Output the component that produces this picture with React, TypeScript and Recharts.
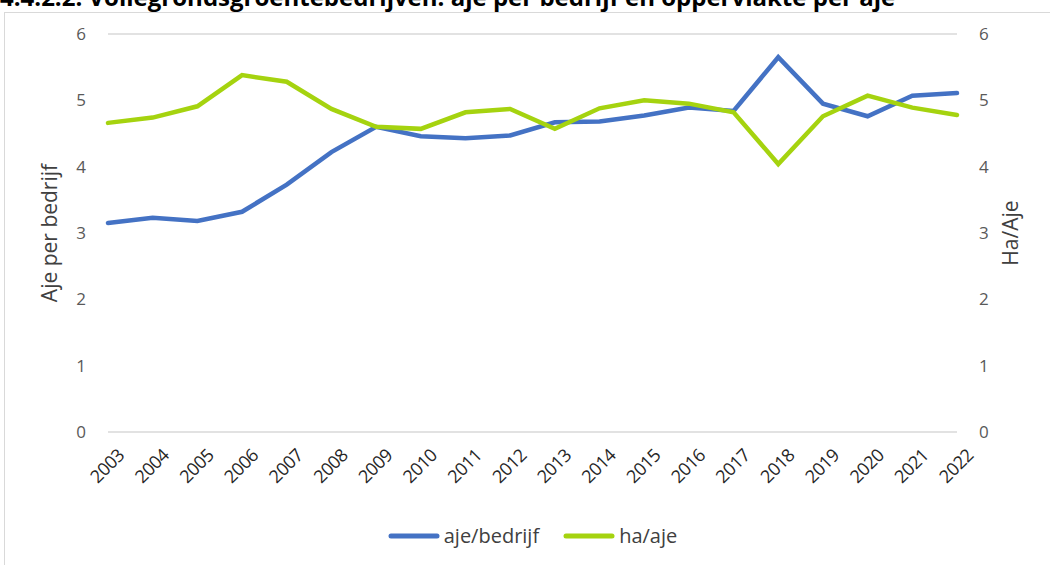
import React from 'react';
import { LineChart, Line, XAxis, YAxis, CartesianGrid, Legend } from 'recharts';

const years = ['2003', '2004', '2005', '2006', '2007', '2008', '2009', '2010', '2011', '2012', '2013', '2014', '2015', '2016', '2017', '2018', '2019', '2020', '2021', '2022'];
const ajePerBedrijf = [3.15, 3.23, 3.18, 3.32, 3.73, 4.22, 4.6, 4.46, 4.43, 4.47, 4.67, 4.68, 4.77, 4.89, 4.84, 5.65, 4.95, 4.76, 5.07, 5.11];
const haPerAje = [4.66, 4.74, 4.91, 5.38, 5.28, 4.87, 4.6, 4.57, 4.82, 4.87, 4.57, 4.88, 5.0, 4.95, 4.82, 4.04, 4.76, 5.07, 4.89, 4.78];
const yTicks = [0, 1, 2, 3, 4, 5, 6];

const data = years.map((year, i) => ({
  year,
  aje: ajePerBedrijf[i],
  ha: haPerAje[i],
}));

const FONT = '"Open Sans", sans-serif';

const YearTick = (props: any) => {
  const { x, y, payload } = props;
  return (
    <g transform={`translate(${x + 9},${y + 8})`}>
      <text textAnchor="end" transform="rotate(-45)" fontSize={18} fill="#262626" fontFamily={FONT} dy={12} letterSpacing={-0.5}>
        {payload.value}
      </text>
    </g>
  );
};

const LegendContent = (props: any) => {
  const { payload } = props;
  return (
    <div style={{ display: 'flex', justifyContent: 'center', alignItems: 'center', fontFamily: FONT, fontSize: 20, color: '#404040', paddingLeft: 8 }}>
      {(payload || []).map((entry: any, i: number) => (
        <div key={i} style={{ display: 'flex', alignItems: 'center', marginRight: i === 0 ? 24 : 0 }}>
          <svg width={52} height={10} style={{ marginRight: 4 }}>
            <line x1={3} y1={5} x2={49} y2={5} stroke={entry.color} strokeWidth={5} strokeLinecap="round" />
          </svg>
          <span>{entry.value}</span>
        </div>
      ))}
    </div>
  );
};

export default function App() {
  return (
    <div style={{ position: 'absolute', left: 0, top: 0, width: 1050, height: 565, overflow: 'hidden', background: '#fff' }}>
      <div
        style={{
          position: 'absolute',
          left: 0,
          top: -20,
          fontFamily: FONT,
          fontWeight: 700,
          fontSize: 24,
          whiteSpace: 'nowrap',
          color: '#000',
        }}
      >
        4.4.2.2. Vollegrondsgroentebedrijven: aje per bedrijf en oppervlakte per aje
      </div>
      <div style={{ position: 'absolute', left: 4, top: 12, width: 1100, height: 600, border: '1px solid #d9d9d9', background: '#fff' }} />
      <div style={{ position: 'absolute', left: 0, top: 0 }}>
        <LineChart width={1050} height={565} data={data} margin={{ top: 34, right: 23, left: 30, bottom: 18 }}>
          <CartesianGrid vertical={false} stroke="#d9d9d9" strokeWidth={1.5} />
          <XAxis dataKey="year" axisLine={false} tickLine={false} interval={0} height={75} tick={<YearTick />} />
          <YAxis
            yAxisId="left"
            orientation="left"
            width={78}
            domain={[0, 6]}
            ticks={yTicks}
            axisLine={false}
            tickLine={false}
            tickMargin={16}
            tick={{ fontSize: 17, fill: '#595959', fontFamily: FONT }}
            label={{ value: 'Aje per bedrijf', angle: -90, position: 'insideLeft', offset: 20, fontSize: 21, fill: '#404040', fontFamily: FONT, style: { textAnchor: 'middle' } }}
          />
          <YAxis
            yAxisId="right"
            orientation="right"
            width={70}
            domain={[0, 6]}
            ticks={yTicks}
            axisLine={false}
            tickLine={false}
            tickMargin={16}
            tick={{ fontSize: 17, fill: '#595959', fontFamily: FONT }}
            label={{ value: 'Ha/Aje', angle: -90, position: 'insideRight', offset: 16, fontSize: 21, fill: '#404040', fontFamily: FONT, style: { textAnchor: 'middle' } }}
          />
          <Legend verticalAlign="bottom" height={40} content={<LegendContent />} wrapperStyle={{ top: 522 }} />
          <Line yAxisId="left" type="linear" dataKey="aje" name="aje/bedrijf" stroke="#4472C4" strokeWidth={4.5} dot={false} isAnimationActive={false} strokeLinecap="round" />
          <Line yAxisId="right" type="linear" dataKey="ha" name="ha/aje" stroke="#A5D30F" strokeWidth={4.5} dot={false} isAnimationActive={false} strokeLinecap="round" />
        </LineChart>
      </div>
    </div>
  );
}
